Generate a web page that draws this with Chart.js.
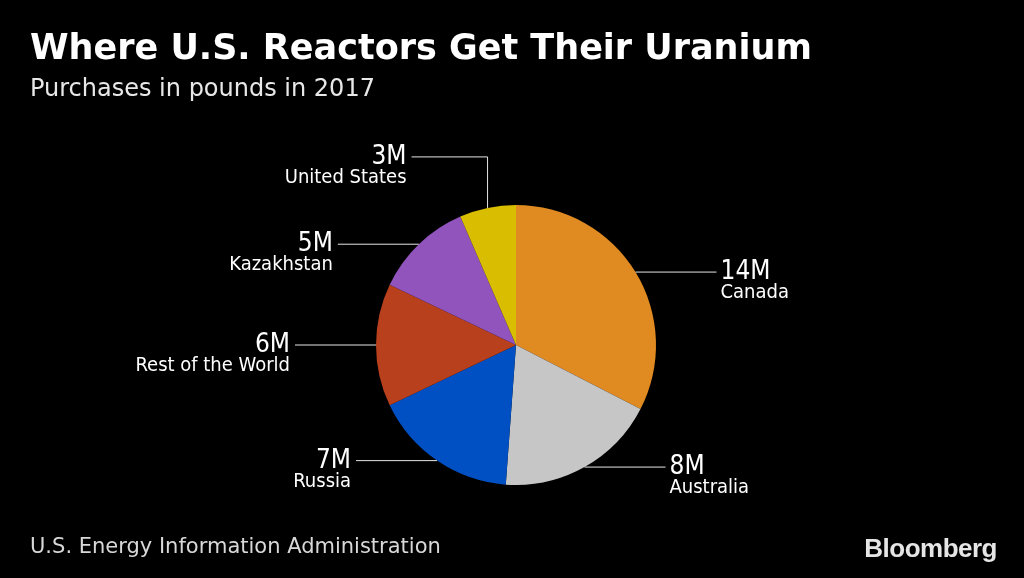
<!DOCTYPE html>
<html>
<head>
<meta charset="utf-8">
<title>Where U.S. Reactors Get Their Uranium</title>
<script src="https://cdn.jsdelivr.net/npm/chart.js@4"></script>
<style>
  html, body { margin: 0; padding: 0; background: #000; }
  #wrap { position: relative; width: 1024px; height: 578px; overflow: hidden; }
  #myChart { position: absolute; left: 0; top: 0; }
  .txt { position: absolute; white-space: nowrap; color: #fff; font-family: 'DejaVu Sans', sans-serif; }
  #title { left: 30px; top: 30px; font-size: 35px; line-height: 35px; font-weight: bold; }
  #subtitle { left: 30px; top: 76px; font-size: 24px; line-height: 24px; color: #e8e8e8; }
  #source { left: 30px; top: 536px; font-size: 21px; line-height: 21px; color: #d8d8d8; }
  #logo { right: 27px; top: 535px; font-size: 26px; line-height: 26px; font-weight: bold; font-family: 'Liberation Sans', Arial, sans-serif; color: #e6e6e6; letter-spacing: -0.5px; }
</style>
</head>
<body>
<div id="wrap">
  <canvas id="myChart" width="1024" height="578"></canvas>
  <div class="txt" id="title">Where U.S. Reactors Get Their Uranium</div>
  <div class="txt" id="subtitle">Purchases in pounds in 2017</div>
  <div class="txt" id="source">U.S. Energy Information Administration</div>
  <div class="txt" id="logo">Bloomberg</div>
</div>
<script>
'use strict'

// purchases in millions of pounds, clockwise from the top
// (slice sizes, labels are the rounded figures)
const countries = ['Canada', 'Australia', 'Russia', 'Rest of the World', 'Kazakhstan', 'United States'];
const pounds = [14.0, 8.0, 7.2, 6.1, 4.9, 2.8];
const valueLabels = ['14M', '8M', '7M', '6M', '5M', '3M'];
const sliceColors = ['#e08a22', '#c6c6c6', '#0050c4', '#b8401c', '#9153bc', '#d9bd00'];

// leader lines + two line labels next to each slice
const calloutPlugin = {
  id: 'callouts',
  afterDatasetsDraw(chart) {
    let ctx = chart.ctx;
    let arcs = chart.getDatasetMeta(0).data;
    ctx.save();
    ctx.strokeStyle = '#e6e6e6';
    ctx.lineWidth = 1;
    ctx.fillStyle = '#ffffff';

    for (let i = 0; i < arcs.length; i++) {
      let arc = arcs[i];
      let mid = (arc.startAngle + arc.endAngle) / 2;
      let px = arc.x + Math.cos(mid) * arc.outerRadius;
      let py = arc.y + Math.sin(mid) * arc.outerRadius;
      let right = Math.cos(mid) > 0;
      let ex, ey;

      ctx.beginPath();
      ctx.moveTo(px, py);
      if (Math.abs(Math.cos(mid)) < 0.3) {
        // slice near the top: go up, then across
        ey = py - 51;
        ex = right ? px + 76 : px - 76;
        ctx.lineTo(px, ey);
        ctx.lineTo(ex, ey);
      } else {
        ey = py;
        ex = right ? px + 81 : px - 81;
        ctx.lineTo(ex, ey);
      }
      ctx.stroke();

      let tx = right ? ex + 4 : ex - 5;
      ctx.textAlign = right ? 'left' : 'right';
      ctx.textBaseline = 'alphabetic';
      ctx.font = '26px "DejaVu Sans Condensed", "DejaVu Sans", sans-serif';
      ctx.fillText(valueLabels[i], tx, ey + 7);
      ctx.font = '20px "DejaVu Sans Condensed", "DejaVu Sans", sans-serif';
      ctx.fillText(countries[i], tx, ey + 26);
    }
    ctx.restore();
  }
};

let ctx = document.getElementById('myChart').getContext('2d');

// eslint-disable-next-line no-unused-vars
let chart = new Chart(ctx, {
  type: 'pie',
  data: {
    labels: countries,
    datasets: [{
      data: pounds,
      backgroundColor: sliceColors,
      borderWidth: 0
    }]
  },
  options: {
    responsive: false,
    animation: false,
    layout: {
      padding: { left: 376, right: 368, top: 205, bottom: 93 }
    },
    plugins: {
      legend: { display: false },
      tooltip: { enabled: false }
    }
  },
  plugins: [calloutPlugin]
});
</script>
</body>
</html>
